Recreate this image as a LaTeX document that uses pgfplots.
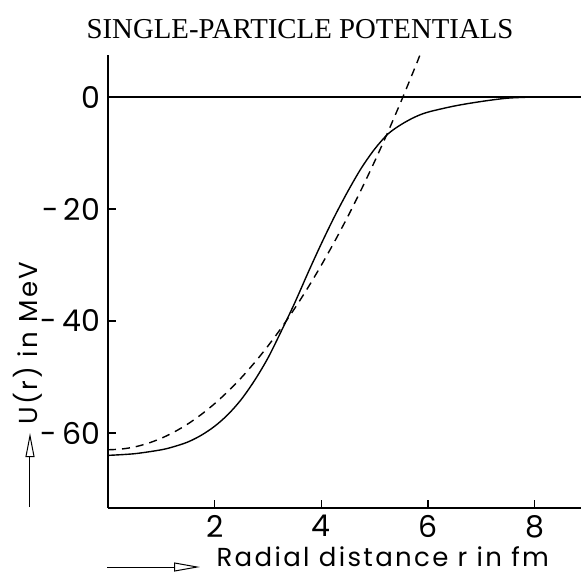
\documentclass[border=0pt]{standalone}
\usepackage{pgfplots}
\pgfplotsset{compat=1.18}
\usepackage{pgfplotstable}
\usepackage{fontspec}
\setmainfont{Liberation Serif}
\newfontfamily\sansf{Poppins}
\newfontfamily\sansw[LetterSpace=9]{Poppins}
\usetikzlibrary{arrows.meta}

\pgfplotstableread{
r U
0 -64.0
0.5 -63.7
1.0 -63.0
1.25 -62.4
1.5 -61.6
1.75 -60.4
2.0 -58.8
2.25 -56.7
2.5 -54.0
2.75 -50.6
3.0 -46.6
3.25 -41.8
3.5 -36.8
3.75 -31.4
4.0 -26.2
4.25 -21.3
4.5 -16.8
4.75 -12.7
5.0 -9.3
5.25 -6.6
5.5 -4.9
5.75 -3.6
6.0 -2.7
6.5 -1.6
7.0 -0.8
7.5 -0.2
8.0 0
}\woodssaxon

\pgfplotstableread{
r U
0 -63
0.25 -62.87
0.5 -62.49
0.75 -61.84
1.0 -60.94
1.25 -59.78
1.5 -58.37
1.75 -56.69
2.0 -54.76
2.25 -52.57
2.5 -50.13
2.75 -47.42
3.0 -44.46
3.25 -41.24
3.5 -37.77
3.75 -34.03
4.0 -30.04
4.25 -25.79
4.5 -21.29
4.75 -16.52
5.0 -11.5
5.25 -6.22
5.5 -0.68
5.75 5.11
5.85 7.5
}\oscillator

\pgfplotstableread{
r U
0 0
8.87 0
}\zeroline

\begin{document}
\begin{tikzpicture}
\begin{axis}[
  at={(0,0)}, anchor=south west,
  scale only axis,
  width=236.5pt, height=226.5pt,
  xmin=0, xmax=8.87, ymin=-73.4, ymax=7.5,
  axis x line=bottom, axis y line=left,
  axis line style={-, line width=0.6pt},
  tick align=inside,
  major tick length=4pt,
  tick style={black, line width=0.6pt},
  xtick={2,4,6,8}, xticklabels={2,4,6,8},
  ytick={-60,-40,-20,0}, yticklabels={-\,60,-\,40,-\,20,0},
  ticklabel style={font=\sansf\fontsize{15}{17}\selectfont},
  yticklabel style={xshift=-0.5pt},
  xlabel={Radial distance r in fm},
  xlabel style={at={(axis description cs:0.581,-0.130)}, anchor=base, font=\sansw\fontsize{13}{15}\selectfont},
  ylabel={U(r) in MeV},
  ylabel style={at={(axis description cs:-0.150,0.364)}, anchor=base, font=\sansw\fontsize{13}{15}\selectfont},
  clip=false,
]
\addplot[black, line width=0.7pt, smooth] table[x=r,y=U] {\woodssaxon};
\addplot[black, line width=0.7pt, smooth, dash pattern=on 4pt off 3pt] table[x=r,y=U] {\oscillator};
\addplot[black, line width=0.6pt] table[x=r,y=U] {\zeroline};
\node[anchor=center, font=\fontsize{14.4}{17}\selectfont] at (axis description cs:0.406,1.057) {SINGLE-PARTICLE POTENTIALS};
\end{axis}
\draw[line width=0.5pt, -{Triangle[open,length=13pt,width=4.5pt]}] (-0.5pt,-29.5pt) -- (46pt,-29.5pt);
\draw[line width=0.5pt, -{Triangle[open,length=12pt,width=4.5pt]}] (-39pt,0.5pt) -- (-39pt,37.5pt);
\pgfresetboundingbox
\path (-54pt,-35.5pt) rectangle (236.5pt,254pt);
\end{tikzpicture}
\end{document}
